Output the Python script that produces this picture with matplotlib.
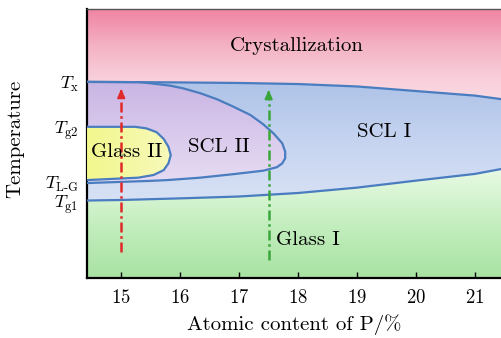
import matplotlib
matplotlib.use("Agg")
import matplotlib.pyplot as plt
import numpy as np
from matplotlib.patches import Polygon
from matplotlib.colors import to_rgb

plt.rcParams['font.family'] = ['cmr10', 'DejaVu Serif']
plt.rcParams['mathtext.fontset'] = 'cm'
plt.rcParams['axes.formatter.use_mathtext'] = True

# axis range (atomic content of P, arbitrary temperature scale 0-100)
x_min, x_max = 14.42, 21.44
y_min, y_max = 0, 100

# crystallization boundary (top of SCL I)
cryst_x = [14.42, 15.3, 16.0, 17.0, 18.0, 19.0, 20.0, 21.0, 21.44]
cryst_y = [72.9, 72.8, 72.7, 72.5, 72.1, 71.2, 69.5, 67.8, 66.5]

# glass transition Tg1 boundary (bottom of SCL I)
tg1_x = [14.42, 15.0, 16.0, 17.0, 18.0, 19.0, 20.0, 21.0, 21.44]
tg1_y = [28.8, 29.0, 29.6, 30.3, 31.6, 33.6, 36.2, 38.7, 40.5]

# SCL II region outline
scl2_x = [14.42, 15.30, 15.49, 15.83, 16.05, 16.34, 16.63, 16.90, 17.19, 17.41, 17.58,
          17.73, 17.78, 17.78, 17.73, 17.64, 17.41, 16.90, 16.34, 15.78, 15.49, 14.42]
scl2_y = [72.9, 72.8, 72.4, 71.5, 70.5, 68.7, 66.4, 63.7, 60.6, 57.1, 53.8,
          50.1, 47.0, 44.5, 42.6, 41.2, 39.9, 38.6, 37.3, 36.4, 36.1, 35.3]

# Glass II region outline
glass2_x = [14.42, 15.24, 15.43, 15.60, 15.72, 15.80, 15.84, 15.80, 15.72, 15.55,
            15.29, 14.42]
glass2_y = [56.2, 56.2, 55.6, 54.2, 51.7, 48.8, 45.7, 42.6, 40.1, 38.3,
            37.3, 36.4]

# labelled temperatures on the y axis
ytick_vals = [72.9, 56.5, 35.7, 29.0]
ytick_labels = [r'$T_{\rm x}$', r'$T_{\rm g2}$', r'$T_{\rm L\text{-}G}$', r'$T_{\rm g1}$']
xtick_vals = [15, 16, 17, 18, 19, 20, 21]

# composition paths (arrows)
arrow_x = [15.0, 17.5]
arrow_start = [9.7, 6.7]
arrow_end = [71.4, 71.0]
arrow_colors = ['#e02a2a', '#3aa53a']

# region labels
labels = ['Crystallization', 'Glass II', 'SCL II', 'SCL I', 'Glass I']
label_x = [17.97, 15.10, 16.66, 19.46, 17.62]
label_y = [86.2, 46.8, 48.7, 54.3, 14.1]
label_ha = ['center', 'center', 'center', 'center', 'left']

line_color = '#4a7cc0'

fig = plt.figure(figsize=(5.01, 3.38), dpi=100)
ax = fig.add_axes([0.1737, 0.1775, 0.8263, 0.7959])
ax.set_xlim(x_min, x_max)
ax.set_ylim(y_min, y_max)


def gradient_fill(poly_xy, stops, horizontal=False, z=1):
    # stops: list of (position 0..1 from bottom/left, colour)
    patch = Polygon(poly_xy, closed=True, facecolor='none', edgecolor='none')
    ax.add_patch(patch)
    t = np.linspace(0, 1, 256)
    pos = [p for p, _ in stops]
    cols = np.array([to_rgb(c) for _, c in stops])
    rgb = np.stack([np.interp(t, pos, cols[:, k]) for k in range(3)], axis=1)
    img = rgb[None, :, :] if horizontal else rgb[:, None, :]
    im = ax.imshow(img, extent=[x_min, x_max, y_min, y_max], origin='lower',
                   aspect='auto', interpolation='bilinear', zorder=z)
    im.set_clip_path(patch)


# crystallization (top)
poly = list(zip(cryst_x, cryst_y)) + [(x_max, y_max), (x_min, y_max)]
gradient_fill(poly, [(0.66, '#fadbe3'), (0.75, '#f8cdd9'), (0.86, '#f4b3c5'),
                     (0.95, '#f293ae'), (1.0, '#f085a3')])
# SCL I band
poly = list(zip(cryst_x, cryst_y)) + list(zip(tg1_x[::-1], tg1_y[::-1]))
gradient_fill(poly, [(0.28, '#d8e2f5'), (0.5, '#c6d4f0'), (0.73, '#aec3e8')])
# Glass I (bottom)
poly = list(zip(tg1_x, tg1_y)) + [(x_max, y_min), (x_min, y_min)]
gradient_fill(poly, [(0.0, '#a8e2a2'), (0.2, '#c4eebf'), (0.4, '#e8fae4')])
# SCL II
gradient_fill(list(zip(scl2_x, scl2_y)), [(0.35, '#e6dcf2'), (0.55, '#d8c8ec'), (0.73, '#c9b5e3')], z=2)
# Glass II
gradient_fill(list(zip(glass2_x, glass2_y)), [(0.0, '#f2f78e'), (0.25, '#f8fac4')],
              horizontal=True, z=3)

# boundary lines
kw = dict(color=line_color, lw=1.6, solid_joinstyle='round', solid_capstyle='round', zorder=5)
ax.plot(cryst_x, cryst_y, **kw)
ax.plot(tg1_x, tg1_y, **kw)
ax.plot(scl2_x, scl2_y, **kw)
ax.plot(glass2_x, glass2_y, **kw)

# arrows
for xa, y0, y1, c in zip(arrow_x, arrow_start, arrow_end, arrow_colors):
    ax.plot([xa, xa], [y0, y1 - 3], color=c, lw=1.8, linestyle=(0, (4, 1.5, 1, 1.5)), zorder=6)
    ax.annotate('', xy=(xa, y1), xytext=(xa, y1 - 3.5),
                arrowprops=dict(arrowstyle='-|>,head_length=0.5,head_width=0.22',
                                color=c, lw=1.5), zorder=6)

for s, xl, yl, ha in zip(labels, label_x, label_y, label_ha):
    ax.text(xl, yl, s, ha=ha, va='center', fontsize=15, zorder=7)

ax.set_xticks(xtick_vals)
ax.set_yticks(ytick_vals)
ax.set_yticklabels(ytick_labels)
ax.tick_params(axis='x', direction='in', length=4, width=1, labelsize=13.5, pad=8)
ax.tick_params(axis='y', length=0, labelsize=13, pad=6)
ax.set_xlabel('Atomic content of P/%', fontsize=15, labelpad=5)
ax.set_ylabel('Temperature', fontsize=15)
ax.yaxis.set_label_coords(-0.152, 0.519)

ax.spines['right'].set_visible(False)
ax.spines['left'].set_linewidth(1.6)
ax.spines['bottom'].set_linewidth(1.6)
ax.spines['top'].set_linewidth(1.0)
ax.spines['top'].set_color('#555555')

fig.savefig('out.png', dpi=100)
